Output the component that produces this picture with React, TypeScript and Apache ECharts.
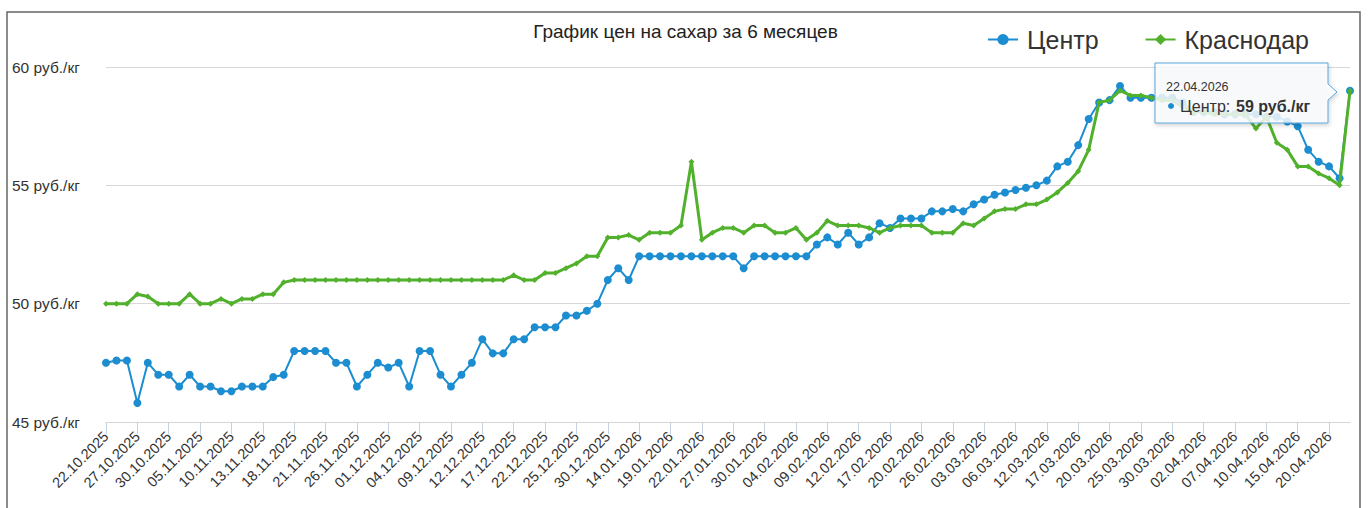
import React, { useEffect, useRef } from 'react';
import * as echarts from 'echarts';

const dates = [
  '22.10.2025', '23.10.2025', '24.10.2025',
  '27.10.2025', '28.10.2025', '29.10.2025',
  '30.10.2025', '31.10.2025', '01.11.2025',
  '05.11.2025', '06.11.2025', '07.11.2025',
  '10.11.2025', '11.11.2025', '12.11.2025',
  '13.11.2025', '14.11.2025', '17.11.2025',
  '18.11.2025', '19.11.2025', '20.11.2025',
  '21.11.2025', '24.11.2025', '25.11.2025',
  '26.11.2025', '27.11.2025', '28.11.2025',
  '01.12.2025', '02.12.2025', '03.12.2025',
  '04.12.2025', '05.12.2025', '08.12.2025',
  '09.12.2025', '10.12.2025', '11.12.2025',
  '12.12.2025', '15.12.2025', '16.12.2025',
  '17.12.2025', '18.12.2025', '19.12.2025',
  '22.12.2025', '23.12.2025', '24.12.2025',
  '25.12.2025', '26.12.2025', '29.12.2025',
  '30.12.2025', '12.01.2026', '13.01.2026',
  '14.01.2026', '15.01.2026', '16.01.2026',
  '19.01.2026', '20.01.2026', '21.01.2026',
  '22.01.2026', '23.01.2026', '26.01.2026',
  '27.01.2026', '28.01.2026', '29.01.2026',
  '30.01.2026', '02.02.2026', '03.02.2026',
  '04.02.2026', '05.02.2026', '06.02.2026',
  '09.02.2026', '10.02.2026', '11.02.2026',
  '12.02.2026', '13.02.2026', '16.02.2026',
  '17.02.2026', '18.02.2026', '19.02.2026',
  '20.02.2026', '24.02.2026', '25.02.2026',
  '26.02.2026', '27.02.2026', '02.03.2026',
  '03.03.2026', '04.03.2026', '05.03.2026',
  '06.03.2026', '10.03.2026', '11.03.2026',
  '12.03.2026', '13.03.2026', '16.03.2026',
  '17.03.2026', '18.03.2026', '19.03.2026',
  '20.03.2026', '23.03.2026', '24.03.2026',
  '25.03.2026', '26.03.2026', '27.03.2026',
  '30.03.2026', '31.03.2026', '01.04.2026',
  '02.04.2026', '03.04.2026', '06.04.2026',
  '07.04.2026', '08.04.2026', '09.04.2026',
  '10.04.2026', '13.04.2026', '14.04.2026',
  '15.04.2026', '16.04.2026', '17.04.2026',
  '20.04.2026', '21.04.2026', '22.04.2026',
];

const centr = [
  47.5, 47.6, 47.6, 45.8, 47.5, 47.0, 47.0, 46.5, 47.0, 46.5,
  46.5, 46.3, 46.3, 46.5, 46.5, 46.5, 46.9, 47.0, 48.0, 48.0,
  48.0, 48.0, 47.5, 47.5, 46.5, 47.0, 47.5, 47.3, 47.5, 46.5,
  48.0, 48.0, 47.0, 46.5, 47.0, 47.5, 48.5, 47.9, 47.9, 48.5,
  48.5, 49.0, 49.0, 49.0, 49.5, 49.5, 49.7, 50.0, 51.0, 51.5,
  51.0, 52.0, 52.0, 52.0, 52.0, 52.0, 52.0, 52.0, 52.0, 52.0,
  52.0, 51.5, 52.0, 52.0, 52.0, 52.0, 52.0, 52.0, 52.5, 52.8,
  52.5, 53.0, 52.5, 52.8, 53.4, 53.2, 53.6, 53.6, 53.6, 53.9,
  53.9, 54.0, 53.9, 54.2, 54.4, 54.6, 54.7, 54.8, 54.9, 55.0,
  55.2, 55.8, 56.0, 56.7, 57.8, 58.5, 58.6, 59.2, 58.7, 58.7,
  58.7, 58.7, 58.7, 58.5, 58.1, 58.1, 58.1, 58.0, 58.0, 58.0,
  58.0, 57.9, 57.9, 57.7, 57.5, 56.5, 56.0, 55.8, 55.3, 59.0,
];

const krasnodar = [
  50.0, 50.0, 50.0, 50.4, 50.3, 50.0, 50.0, 50.0, 50.4, 50.0,
  50.0, 50.2, 50.0, 50.2, 50.2, 50.4, 50.4, 50.9, 51.0, 51.0,
  51.0, 51.0, 51.0, 51.0, 51.0, 51.0, 51.0, 51.0, 51.0, 51.0,
  51.0, 51.0, 51.0, 51.0, 51.0, 51.0, 51.0, 51.0, 51.0, 51.2,
  51.0, 51.0, 51.3, 51.3, 51.5, 51.7, 52.0, 52.0, 52.8, 52.8,
  52.9, 52.7, 53.0, 53.0, 53.0, 53.3, 56.0, 52.7, 53.0, 53.2,
  53.2, 53.0, 53.3, 53.3, 53.0, 53.0, 53.2, 52.7, 53.0, 53.5,
  53.3, 53.3, 53.3, 53.2, 53.0, 53.2, 53.3, 53.3, 53.3, 53.0,
  53.0, 53.0, 53.4, 53.3, 53.6, 53.9, 54.0, 54.0, 54.2, 54.2,
  54.4, 54.7, 55.1, 55.6, 56.5, 58.5, 58.6, 59.0, 58.8, 58.8,
  58.7, 58.6, 58.6, 58.3, 58.1, 58.1, 58.0, 58.0, 58.0, 58.0,
  57.4, 57.9, 56.8, 56.5, 55.8, 55.8, 55.5, 55.3, 55.0, 59.0,
];

const yMin = 45;
const yMax = 60;
const yStep = 5;
const unit = 'руб./кг';
const chartTitle = 'График цен на сахар за 6 месяцев';
const seriesNames = ['Центр', 'Краснодар'];
const tipDate = '22.04.2026';
const tipValue = '59 руб./кг';

const FONT = '"Liberation Sans", Arial, Helvetica, sans-serif';
const BLUE = '#1b8dd0';
const GREEN = '#52b12c';

export default function App() {
  const ref = useRef<HTMLDivElement>(null);

  useEffect(() => {
    const chart = echarts.init(ref.current as HTMLDivElement, null, { renderer: 'svg' });
    chart.setOption({
      animation: false,
      backgroundColor: '#ffffff',
      title: {
        text: chartTitle,
        left: 'center',
        top: 17,
        textStyle: { fontSize: 19, fontWeight: 'normal', color: '#222', fontFamily: FONT },
      },
      legend: {
        top: 27,
        left: 987,
        padding: 0,
        itemWidth: 30,
        itemHeight: 14,
        itemGap: 46,
        textStyle: { fontSize: 25, color: '#333', fontFamily: FONT, padding: [0, 0, 0, 4] },
        data: seriesNames,
      },
      grid: { left: 106, right: 21, top: 67, bottom: 86 },
      xAxis: {
        type: 'category',
        data: dates,
        boundaryGap: false,
        axisLine: { lineStyle: { color: '#d6d6d6' } },
        axisTick: { interval: 2, length: 12, lineStyle: { color: '#c4d2e2' } },
        axisLabel: {
          interval: 2,
          rotate: 45,
          fontSize: 14.5,
          color: '#333',
          fontFamily: FONT,
          margin: 12,
        },
        splitLine: { show: false },
      },
      yAxis: {
        type: 'value',
        min: yMin,
        max: yMax,
        interval: yStep,
        axisLine: { show: false },
        axisTick: { show: false },
        axisLabel: {
          formatter: (v: number) => `${v} ${unit}`,
          align: 'left',
          margin: 94,
          fontSize: 15.5,
          color: '#333',
          fontFamily: FONT,
          padding: [5, 0, 0, 0],
        },
        splitLine: { lineStyle: { color: '#d8d8d8', width: 1 } },
      },
      series: [
        {
          name: seriesNames[0],
          type: 'line',
          data: centr,
          showAllSymbol: true,
          symbol: 'circle',
          symbolSize: 8,
          color: BLUE,
          lineStyle: { width: 2, color: BLUE },
          itemStyle: { color: BLUE },
          z: 2,
        },
        {
          name: seriesNames[1],
          type: 'line',
          data: krasnodar,
          showAllSymbol: true,
          symbol: 'diamond',
          symbolSize: 6,
          color: GREEN,
          lineStyle: { width: 3, color: GREEN },
          itemStyle: { color: GREEN },
          z: 3,
        },
      ],
      graphic: [
        {
          type: 'polyline',
          shape: { points: [[7, 508], [7, 12], [1360, 12], [1360, 508]] },
          style: { stroke: '#666', lineWidth: 1.5, fill: null },
          z: 1,
        },
        {
          type: 'polygon',
          z: 100,
          shape: {
            points: [
              [1155, 63], [1328, 63], [1328, 84], [1337, 92],
              [1328, 100], [1328, 123], [1155, 123],
            ],
          },
          style: {
            fill: 'rgba(250,252,255,0.82)',
            stroke: '#5aa6dc',
            lineWidth: 1,
            shadowBlur: 4,
            shadowOffsetX: 1,
            shadowOffsetY: 2,
            shadowColor: 'rgba(0,0,0,0.2)',
          },
        },
        {
          type: 'text',
          z: 101,
          x: 1166,
          y: 80,
          style: { text: tipDate, fontSize: 12.5, fill: '#333', fontFamily: FONT, textAlign: 'left', textVerticalAlign: 'top' },
        },
        {
          type: 'circle',
          z: 101,
          shape: { cx: 1171, cy: 106, r: 3 },
          style: { fill: BLUE },
        },
        {
          type: 'text',
          z: 101,
          x: 1180,
          y: 106,
          style: {
            text: `${seriesNames[0]}: `,
            fontSize: 16,
            fill: '#333',
            fontFamily: FONT,
            textAlign: 'left',
            textVerticalAlign: 'middle',
          },
        },
        {
          type: 'text',
          z: 101,
          x: 1236,
          y: 106,
          style: {
            text: tipValue,
            fontSize: 16,
            fontWeight: 'bold',
            fill: '#333',
            fontFamily: FONT,
            textAlign: 'left',
            textVerticalAlign: 'middle',
          },
        },
      ],
    });
    return () => chart.dispose();
  }, []);

  return (
    <div
      ref={ref}
      style={{ position: 'fixed', left: 0, top: 0, width: 1371, height: 508, background: '#fff' }}
    />
  );
}
